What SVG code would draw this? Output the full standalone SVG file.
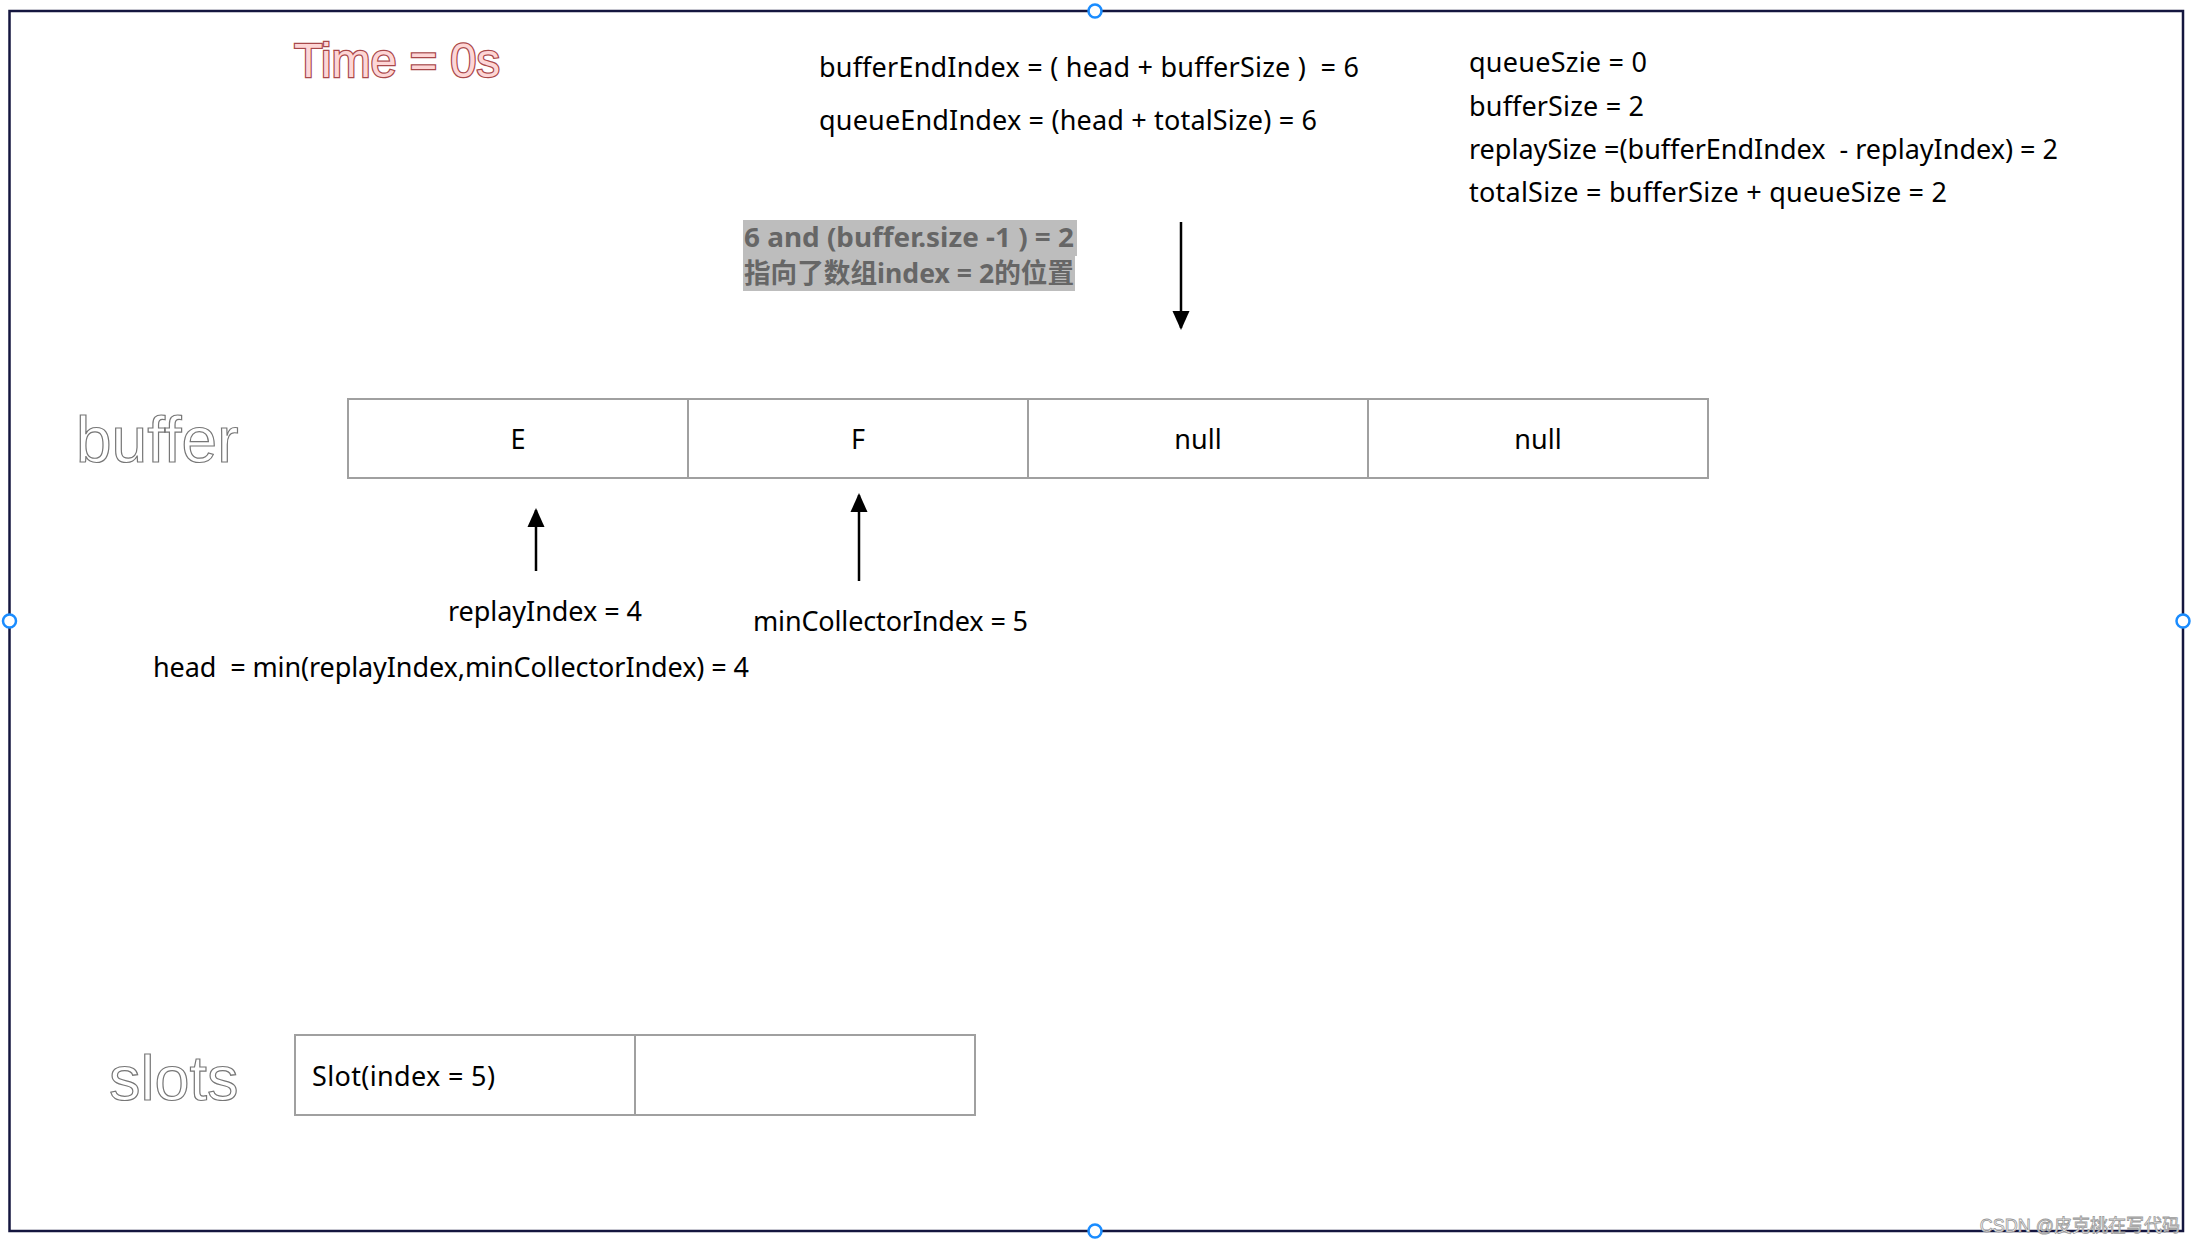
<svg xmlns="http://www.w3.org/2000/svg" width="2194" height="1242" viewBox="0 0 2194 1242">
<style>
text{white-space:pre}
.t{font-family:"Noto Sans","Open Sans","Noto Sans CJK SC",sans-serif;font-size:27px;fill:#000}
.cell{fill:#fff;stroke:#a0a0a0;stroke-width:2}
.outline{font-family:"Liberation Sans",Arial,sans-serif;fill:#fff;stroke:#777;stroke-width:1.2}
.arrow{stroke:#000;stroke-width:2.5;fill:none}
.handle{fill:#fff;stroke:#1a8cff;stroke-width:2.5}
.note{font-family:"Noto Sans","Noto Sans CJK SC",sans-serif;font-weight:bold;font-size:27px;fill:#666}
</style>
<defs>
<marker id="ah" viewBox="0 0 10 10" refX="9" refY="5" markerWidth="19" markerHeight="19" markerUnits="userSpaceOnUse" orient="auto">
<path d="M0,0.5 L10,5 L0,9.5 z" fill="#000"/>
</marker>
</defs>
<rect x="0" y="0" width="2194" height="1242" fill="#fff"/>
<g id="frame">
<rect x="9.5" y="11" width="2173.5" height="1220" fill="none" stroke="#14163f" stroke-width="2.5"/>
<circle class="handle" cx="1095" cy="11" r="6.5"/>
<circle class="handle" cx="1095" cy="1231" r="6.5"/>
<circle class="handle" cx="9.5" cy="621" r="6.5"/>
<circle class="handle" cx="2183" cy="621" r="6.5"/>
</g>
<g id="title">
<text x="294" y="77" font-family="Liberation Sans,Arial,sans-serif" font-size="48" textLength="206" lengthAdjust="spacingAndGlyphs" fill="#fdd6d6" stroke="#a8484a" stroke-width="2.5" paint-order="stroke">Time = 0s</text>
</g>
<g id="formulas">
<text class="t" x="819" y="77" textLength="540" lengthAdjust="spacing">bufferEndIndex = ( head + bufferSize )  = 6</text>
<text class="t" x="819" y="130" textLength="498" lengthAdjust="spacing">queueEndIndex = (head + totalSize) = 6</text>
</g>
<g id="sizes">
<text class="t" x="1469" y="72" textLength="178" lengthAdjust="spacing">queueSzie = 0</text>
<text class="t" x="1469" y="116" textLength="175" lengthAdjust="spacing">bufferSize = 2</text>
<text class="t" x="1469" y="159" textLength="589" lengthAdjust="spacing">replaySize =(bufferEndIndex  - replayIndex) = 2</text>
<text class="t" x="1469" y="202" textLength="478" lengthAdjust="spacing">totalSize = bufferSize + queueSize = 2</text>
</g>
<g id="note">
<rect x="743" y="220" width="334" height="36" fill="#bdbdbd"/>
<rect x="743" y="255" width="332" height="36" fill="#bdbdbd"/>
<text class="note" x="744" y="247" textLength="330" lengthAdjust="spacingAndGlyphs">6 and (buffer.size -1 ) = 2</text>
<text class="note" x="744" y="283" textLength="330" lengthAdjust="spacingAndGlyphs">指向了数组index = 2的位置</text>
</g>
<g id="buffer-label">
<text class="outline" x="76" y="462" font-size="64">buffer</text>
</g>
<g id="buffer">
<rect class="cell" x="348" y="399" width="340" height="79"/>
<rect class="cell" x="688" y="399" width="340" height="79"/>
<rect class="cell" x="1028" y="399" width="340" height="79"/>
<rect class="cell" x="1368" y="399" width="340" height="79"/>
<text class="t" x="518" y="449" text-anchor="middle">E</text>
<text class="t" x="858" y="449" text-anchor="middle">F</text>
<text class="t" x="1198" y="449" text-anchor="middle">null</text>
<text class="t" x="1538" y="449" text-anchor="middle">null</text>
</g>
<g id="connectors">
<line class="arrow" x1="1181" y1="222" x2="1181" y2="328" marker-end="url(#ah)"/>
<line class="arrow" x1="536" y1="571" x2="536" y2="510" marker-end="url(#ah)"/>
<line class="arrow" x1="859" y1="581" x2="859" y2="495" marker-end="url(#ah)"/>
</g>
<g id="labels">
<text class="t" x="448" y="621" textLength="194" lengthAdjust="spacing">replayIndex = 4</text>
<text class="t" x="753" y="631" textLength="275" lengthAdjust="spacing">minCollectorIndex = 5</text>
<text class="t" x="153" y="677" textLength="596" lengthAdjust="spacing">head  = min(replayIndex,minCollectorIndex) = 4</text>
</g>
<g id="slots-label">
<text class="outline" x="109" y="1100" font-size="63">slots</text>
</g>
<g id="slots">
<rect class="cell" x="295" y="1035" width="340" height="80"/>
<rect class="cell" x="635" y="1035" width="340" height="80"/>
<text class="t" x="312" y="1086" textLength="183" lengthAdjust="spacing">Slot(index = 5)</text>
</g>
<text x="2180" y="1232" text-anchor="end" font-family="Liberation Sans,Noto Sans CJK SC,sans-serif" font-size="18" fill="#fff" stroke="#999" stroke-width="0.8">CSDN @皮克桃在写代码</text>
</svg>
